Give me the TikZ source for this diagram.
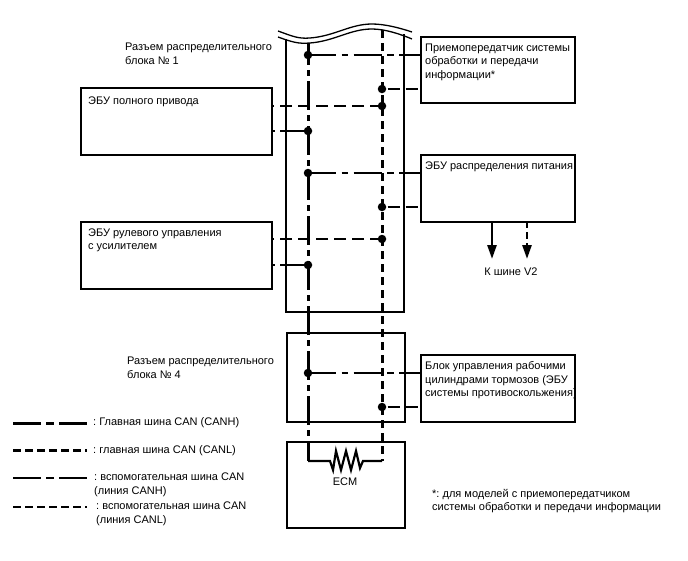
\documentclass[tikz,border=0pt]{standalone}
\usepackage{fontspec}
\setmainfont{Liberation Sans}
\usetikzlibrary{arrows.meta}
\tikzset{
  x=1pt,y=-1pt,
  label text/.style={inner sep=0pt,anchor=north west,align=left,font=\frenchspacing\fontsize{11}{13.4}\selectfont},
  unit/.style={draw,line width=1.9pt,inner sep=0pt},
  mainh/.style={line width=3pt,dash pattern=on 29pt off 5pt on 6pt off 5pt,dash phase=7pt},
  mainl/.style={line width=3pt,dash pattern=on 8pt off 5pt},
  subh/.style={line width=1.3pt,dash pattern=on 28pt off 5.5pt on 6.5pt off 5.5pt},
  subl/.style={line width=1.3pt,dash pattern=on 12.5pt off 5.5pt},
  sublr/.style={subl,dash phase=12.5pt},
  junction/.style={circle,fill,inner sep=0pt,minimum size=8.5pt},
  busarrow/.style={-{Triangle[length=14pt,width=9pt]}},
}
\newcommand{\boxat}[5]{\node[unit,minimum width=#3pt,minimum height=#4pt,anchor=north west] (#5) at (#1,#2) {};}
\begin{document}
\begin{tikzpicture}
\useasboundingbox (0,0) rectangle (688,560);

% Distribution block outlines
\coordinate (wallLT) at (286,39);
\coordinate (wallLB) at (286,312);
\coordinate (wallRT) at (404,34);
\coordinate (wallRB) at (404,312);
\draw[line width=1.8pt] (wallLT) -- (wallLB) -- (wallRB) -- (wallRT);
\draw[line width=1.3pt] (278,31) .. controls (292,36) and (298,39) .. (310,38) .. controls (335,36) and (350,24) .. (372,24) .. controls (385,24) and (400,28) .. (412,32);
\draw[line width=1.3pt] (278,37) .. controls (292,42) and (298,44) .. (310,43) .. controls (335,41) and (350,29) .. (372,29) .. controls (385,29) and (400,34) .. (412,39);
\boxat{286}{332}{118}{89}{blockB}
\boxat{286}{441}{118}{86}{ecm}

% Connected units
\boxat{420}{36}{154}{66}{transceiver}
\boxat{80}{87}{191}{67}{awd}
\boxat{420}{154}{154}{67}{power}
\boxat{80}{221}{191}{67}{eps}
\boxat{420}{354}{154}{67}{brake}

\node[label text] (tTrans) at (425,43.5) {Приемопередатчик системы\\обработки и передачи\\информации*};
\node[label text] (tAwd) at (88,96.5) {ЭБУ полного привода};
\node[label text] (tPower) at (425,161.5) {ЭБУ распределения питания};
\node[label text] (tEps) at (88,228.5) {ЭБУ рулевого управления\\с усилителем};
\node[label text] (tBrake) at (425,361.5) {Блок управления рабочими\\цилиндрами тормозов (ЭБУ\\системы противоскольжения)};
\node[label text] (tConn1) at (125,43) {Разъем распределительного\\блока № 1};
\node[label text] (tConn4) at (127,357) {Разъем распределительного\\блока № 4};
\node[label text,anchor=north] (tV2) at (511,268) {К шине V2};
\node[label text,anchor=north] (tEcm) at (345,478) {ECM};
\node[label text] (tNote) at (432,489) {*: для моделей с приемопередатчиком\\системы обработки и передачи информации};

% Bus ends and junctions
\coordinate (hTop) at (308,43);
\coordinate (lTop) at (382,30);
\coordinate (hEnd) at (308,461);
\coordinate (lEnd) at (382,461);
\coordinate (rA) at (330,461);
\coordinate (rB) at (363,461);
\node[junction] (h1) at (308,55) {};
\node[junction] (h2) at (308,131) {};
\node[junction] (h3) at (308,173) {};
\node[junction] (h4) at (308,265) {};
\node[junction] (h5) at (308,373) {};
\node[junction] (l1) at (382,89) {};
\node[junction] (l2) at (382,106) {};
\node[junction] (l3) at (382,207) {};
\node[junction] (l4) at (382,239) {};
\node[junction] (l5) at (382,407) {};

% Main bus lines
\draw[mainh] (hTop) -- (hEnd);
\draw[mainl] (lTop) -- (lEnd);

% Terminating resistor
\draw[line width=2.2pt,line join=miter] (hEnd) -- (rA) -- (333,470) -- (336,451) -- (341,470) -- (346,451) -- (351,470) -- (356,451) -- (360,468) -- (rB) -- (lEnd);

% Branch lines, measured from the junction centres
\draw[subh] (h1.center) -- (h1 -| transceiver.west);
\draw[sublr] (l1.center) -- (l1 -| transceiver.west);
\draw[subl] (l2.center) -- (l2 -| awd.east);
\draw[subh] (h2.center) -- (h2 -| awd.east);
\draw[subh] (h3.center) -- (h3 -| power.west);
\draw[sublr] (l3.center) -- (l3 -| power.west);
\draw[subl] (l4.center) -- (l4 -| eps.east);
\draw[subh] (h4.center) -- (h4 -| eps.east);
\draw[subh] (h5.center) -- (h5 -| brake.west);
\draw[sublr] (l5.center) -- (l5 -| brake.west);

% Links towards the V2 bus
\coordinate (v2h) at (492,221);
\coordinate (v2l) at (527,221);
\coordinate (v2hEnd) at (492,259);
\coordinate (v2lEnd) at (527,259);
\draw[line width=2.6pt,busarrow] (v2h) -- (v2hEnd);
\draw[line width=2.6pt,dash pattern=on 7pt off 4pt,busarrow] (v2l) -- (v2lEnd);

% Line styles key
\coordinate (k1a) at (13,423); \coordinate (k1b) at (87,423);
\coordinate (k2a) at (13,450); \coordinate (k2b) at (87,450);
\coordinate (k3a) at (13,478); \coordinate (k3b) at (87,478);
\coordinate (k4a) at (13,507); \coordinate (k4b) at (87,507);
\draw[line width=3pt,dash pattern=on 28pt off 5pt on 8pt off 5pt] (k1a) -- (k1b);
\draw[line width=3pt,dash pattern=on 8pt off 4pt] (k2a) -- (k2b);
\draw[line width=1.3pt,dash pattern=on 28pt off 5pt on 8pt off 5pt] (k3a) -- (k3b);
\draw[line width=1.3pt,dash pattern=on 8pt off 4pt] (k4a) -- (k4b);
\node[label text] (kt1) at (93,417) {: Главная шина CAN (CANH)};
\node[label text] (kt2) at (93,445.5) {: главная шина CAN (CANL)};
\node[label text] (kt3) at (94,473) {: вспомогательная шина CAN\\(линия CANH)};
\node[label text] (kt4) at (96,502) {: вспомогательная шина CAN\\(линия CANL)};
\end{tikzpicture}
\end{document}
